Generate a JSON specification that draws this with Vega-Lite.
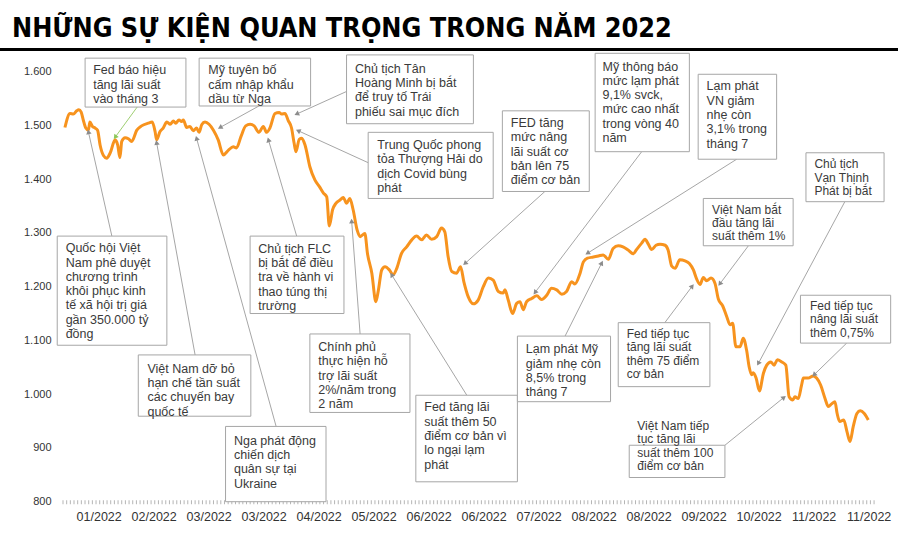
{
  "$schema": "https://vega.github.io/schema/vega-lite/v6.json",
  "width": 814,
  "height": 457,
  "autosize": {"type": "none"},
  "padding": {"left": 62, "top": 44.7, "right": 25, "bottom": 33.3},
  "background": "white",
  "title": {
    "text": "NHỮNG SỰ KIỆN QUAN TRỌNG TRONG NĂM 2022",
    "anchor": "start",
    "frame": "group",
    "dx": -50,
    "dy": 30,
    "font": "Liberation Sans Narrow, DejaVu Sans Condensed, Liberation Sans",
    "fontSize": 26.8,
    "fontWeight": "bold",
    "color": "#000000",
    "baseline": "alphabetic",
    "offset": 11.4
  },
  "config": {
    "view": {"stroke": null},
    "font": "Liberation Sans"
  },
  "datasets": {
    "vn": [
      {"d":0.8,"v":1496},{"d":2.2,"v":1522},{"d":3.1,"v":1521},{"d":4.0,"v":1527},{"d":4.6,"v":1529},{"d":5.2,"v":1525},{"d":5.8,"v":1510},{"d":6.5,"v":1495},{"d":7.2,"v":1491},{"d":7.6,"v":1506},{"d":8.3,"v":1498},{"d":9.0,"v":1495},{"d":9.7,"v":1491},{"d":10.4,"v":1463},{"d":11.3,"v":1444},{"d":12.2,"v":1439},{"d":13.1,"v":1448},{"d":14.5,"v":1473},{"d":15.2,"v":1463},{"d":15.8,"v":1440},{"d":16.3,"v":1470},{"d":17.2,"v":1477},{"d":18.1,"v":1475},{"d":19.0,"v":1470},{"d":20.4,"v":1491},{"d":21.7,"v":1499},{"d":23.5,"v":1504},{"d":24.6,"v":1506},{"d":25.4,"v":1488},{"d":25.8,"v":1473},{"d":26.7,"v":1488},{"d":27.6,"v":1495},{"d":28.6,"v":1506},{"d":29.5,"v":1502},{"d":30.4,"v":1508},{"d":31.0,"v":1504},{"d":31.9,"v":1510},{"d":32.6,"v":1507},{"d":33.1,"v":1510},{"d":34.0,"v":1496},{"d":34.9,"v":1498},{"d":35.8,"v":1490},{"d":36.7,"v":1495},{"d":37.4,"v":1487},{"d":38.1,"v":1501},{"d":39.0,"v":1506},{"d":40.1,"v":1502},{"d":41.3,"v":1491},{"d":42.6,"v":1473},{"d":44.0,"v":1445},{"d":45.4,"v":1454},{"d":46.7,"v":1460},{"d":47.6,"v":1458},{"d":48.8,"v":1479},{"d":50.1,"v":1499},{"d":51.3,"v":1502},{"d":52.4,"v":1499},{"d":53.7,"v":1487},{"d":54.9,"v":1498},{"d":55.8,"v":1487},{"d":56.7,"v":1495},{"d":58.1,"v":1522},{"d":59.2,"v":1524},{"d":59.9,"v":1521},{"d":60.8,"v":1522},{"d":61.7,"v":1509},{"d":62.6,"v":1495},{"d":63.3,"v":1467},{"d":63.8,"v":1451},{"d":64.7,"v":1474},{"d":65.4,"v":1476},{"d":66.3,"v":1463},{"d":67.6,"v":1423},{"d":69.0,"v":1398},{"d":70.2,"v":1386},{"d":71.3,"v":1374},{"d":72.2,"v":1367},{"d":72.9,"v":1313},{"d":73.8,"v":1343},{"d":74.7,"v":1355},{"d":75.8,"v":1361},{"d":76.7,"v":1366},{"d":77.6,"v":1355},{"d":78.5,"v":1364},{"d":79.4,"v":1343},{"d":80.5,"v":1305},{"d":81.3,"v":1293},{"d":82.6,"v":1299},{"d":83.3,"v":1262},{"d":84.5,"v":1225},{"d":85.6,"v":1172},{"d":86.3,"v":1194},{"d":87.2,"v":1231},{"d":88.1,"v":1237},{"d":89.3,"v":1231},{"d":90.3,"v":1222},{"d":91.3,"v":1234},{"d":92.6,"v":1262},{"d":94.0,"v":1274},{"d":95.4,"v":1287},{"d":96.7,"v":1294},{"d":98.1,"v":1287},{"d":99.4,"v":1296},{"d":100.8,"v":1288},{"d":102.2,"v":1293},{"d":103.5,"v":1309},{"d":104.4,"v":1302},{"d":105.3,"v":1256},{"d":106.3,"v":1228},{"d":107.6,"v":1225},{"d":108.7,"v":1237},{"d":109.6,"v":1209},{"d":110.8,"v":1181},{"d":112.2,"v":1168},{"d":113.5,"v":1175},{"d":114.9,"v":1200},{"d":116.3,"v":1216},{"d":117.6,"v":1212},{"d":119.0,"v":1191},{"d":120.3,"v":1188},{"d":120.8,"v":1194},{"d":121.7,"v":1175},{"d":122.9,"v":1150},{"d":124.0,"v":1169},{"d":124.9,"v":1172},{"d":125.8,"v":1157},{"d":126.7,"v":1172},{"d":128.1,"v":1178},{"d":129.5,"v":1183},{"d":130.8,"v":1176},{"d":132.2,"v":1184},{"d":133.5,"v":1197},{"d":134.9,"v":1194},{"d":136.3,"v":1186},{"d":137.6,"v":1191},{"d":139.0,"v":1209},{"d":139.9,"v":1205},{"d":141.3,"v":1225},{"d":142.2,"v":1246},{"d":143.3,"v":1253},{"d":144.9,"v":1255},{"d":146.3,"v":1257},{"d":147.6,"v":1259},{"d":149.0,"v":1251},{"d":150.3,"v":1271},{"d":151.7,"v":1276},{"d":153.0,"v":1274},{"d":154.4,"v":1268},{"d":155.8,"v":1261},{"d":156.7,"v":1269},{"d":158.1,"v":1281},{"d":159.0,"v":1288},{"d":159.9,"v":1279},{"d":160.8,"v":1269},{"d":162.0,"v":1277},{"d":163.1,"v":1279},{"d":164.5,"v":1277},{"d":165.3,"v":1268},{"d":166.3,"v":1238},{"d":167.2,"v":1234},{"d":168.5,"v":1250},{"d":169.9,"v":1248},{"d":171.1,"v":1243},{"d":172.2,"v":1231},{"d":173.1,"v":1214},{"d":174.0,"v":1204},{"d":174.9,"v":1217},{"d":175.8,"v":1211},{"d":177.0,"v":1216},{"d":178.1,"v":1206},{"d":179.0,"v":1177},{"d":180.2,"v":1164},{"d":181.3,"v":1144},{"d":182.2,"v":1129},{"d":182.9,"v":1132},{"d":183.8,"v":1088},{"d":184.9,"v":1088},{"d":185.8,"v":1104},{"d":186.7,"v":1082},{"d":187.4,"v":1051},{"d":188.1,"v":1036},{"d":188.5,"v":1040},{"d":189.3,"v":1030},{"d":190.2,"v":1006},{"d":191.3,"v":1039},{"d":192.2,"v":1054},{"d":193.3,"v":1060},{"d":194.2,"v":1054},{"d":195.1,"v":1064},{"d":196.3,"v":1060},{"d":197.4,"v":1054},{"d":198.3,"v":995},{"d":199.3,"v":989},{"d":199.9,"v":995},{"d":200.8,"v":992},{"d":201.7,"v":1017},{"d":202.2,"v":1030},{"d":203.5,"v":1030},{"d":204.9,"v":1034},{"d":205.8,"v":1030},{"d":206.9,"v":1017},{"d":208.1,"v":992},{"d":209.0,"v":977},{"d":209.9,"v":982},{"d":210.8,"v":986},{"d":211.4,"v":964},{"d":212.1,"v":949},{"d":213.2,"v":952},{"d":214.1,"v":930},{"d":214.9,"v":912},{"d":215.8,"v":940},{"d":216.8,"v":964},{"d":217.7,"v":969},{"d":218.8,"v":964},{"d":219.9,"v":952}
    ],
    "boxes": [
      {"d1":6.3,"d2":33.8,"v1":1534,"v2":1625},
      {"d1":37.4,"d2":67.8,"v1":1536,"v2":1625},
      {"d1":77.6,"d2":112.2,"v1":1503,"v2":1631},
      {"d1":83.5,"d2":117.6,"v1":1364,"v2":1487},
      {"d1":120.1,"d2":143.8,"v1":1377,"v2":1527},
      {"d1":145.4,"d2":171.1,"v1":1451,"v2":1634},
      {"d1":173.5,"d2":194.9,"v1":1437,"v2":1595},
      {"d1":202.9,"d2":224.2,"v1":1358,"v2":1449},
      {"d1":174.9,"d2":199.4,"v1":1276,"v2":1364},
      {"d1":-1.3,"d2":28.6,"v1":1091,"v2":1294},
      {"d1":20.8,"d2":51.5,"v1":959,"v2":1073},
      {"d1":44.6,"d2":72.0,"v1":800,"v2":940},
      {"d1":51.3,"d2":76.9,"v1":1150,"v2":1294},
      {"d1":67.6,"d2":94.9,"v1":966,"v2":1112},
      {"d1":96.5,"d2":124.2,"v1":837,"v2":998},
      {"d1":124.2,"d2":149.6,"v1":986,"v2":1108},
      {"d1":151.7,"d2":176.7,"v1":1014,"v2":1133},
      {"d1":201.4,"d2":226.0,"v1":1095,"v2":1184},
      {"d1":154.7,"d2":180.8,"v1":845,"v2":905}
    ],
    "links": [
      {"d1":53.7,"v1":1536,"d2":43.1,"v2":1496},
      {"d1":77.6,"v1":1563,"d2":64.0,"v2":1521},
      {"d1":84.0,"v1":1429,"d2":64.4,"v2":1490},
      {"d1":131.7,"v1":1377,"d2":109.9,"v2":1243},
      {"d1":158.1,"v1":1451,"d2":129.0,"v2":1189},
      {"d1":184.0,"v1":1437,"d2":143.3,"v2":1262},
      {"d1":213.5,"v1":1358,"d2":189.9,"v2":1057},
      {"d1":187.2,"v1":1276,"d2":179.4,"v2":1205},
      {"d1":13.6,"v1":1294,"d2":7.2,"v2":1488},
      {"d1":36.3,"v1":1073,"d2":25.8,"v2":1468},
      {"d1":58.4,"v1":940,"d2":36.7,"v2":1476},
      {"d1":64.0,"v1":1294,"d2":56.3,"v2":1473},
      {"d1":81.3,"v1":1112,"d2":79.0,"v2":1322},
      {"d1":110.4,"v1":998,"d2":89.9,"v2":1222},
      {"d1":137.2,"v1":1108,"d2":147.2,"v2":1244},
      {"d1":164.4,"v1":1133,"d2":171.9,"v2":1201},
      {"d1":214.0,"v1":1095,"d2":205.1,"v2":1036},
      {"d1":180.8,"v1":905,"d2":196.9,"v2":994}
    ],
    "greenLink": [
      {"d1":20.5,"v1":1534,"d2":14.5,"v2":1478}
    ],
    "titleRule": [
      {"d1":-17,"d2":228,"v":1641}
    ],
    "notes": [
      {"d":8.5,"v":1595,"t":"Fed báo hiệu\ntăng lãi suất\nvào tháng 3"},
      {"d":39.9,"v":1595,"t":"Mỹ tuyên bố\ncấm nhập khẩu\ndầu từ Nga"},
      {"d":79.9,"v":1598,"t":"Chủ tịch Tân\nHoàng Minh bị bắt\nđể truy tố Trái\nphiếu sai mục đích"},
      {"d":86.0,"v":1456,"t":"Trung Quốc phong\ntỏa Thượng Hải do\ndịch Covid bùng\nphát"},
      {"d":122.4,"v":1497,"t":"FED tăng\nmức nâng\nlãi suất cơ\nbản lên 75\nđiểm cơ bản"},
      {"d":147.4,"v":1602,"t":"Mỹ thông báo\nmức lạm phát\n9,1% svck,\nmức cao nhất\ntrong vòng 40\nnăm"},
      {"d":175.8,"v":1565,"t":"Lạm phát\nVN giảm\nnhẹ còn\n3,1% trong\ntháng 7"},
      {"d":1.0,"v":1264,"t":"Quốc hội Việt\nNam phê duyệt\nchương trình\nkhôi phục kinh\ntế xã hội trị giá\ngần 350.000 tỷ\nđồng"},
      {"d":23.3,"v":1040,"t":"Việt Nam dỡ bỏ\nhạn chế tần suất\ncác chuyến bay\nquốc tế"},
      {"d":46.9,"v":906,"t":"Nga phát động\nchiến dịch\nquân sự tại\nUkraine"},
      {"d":53.5,"v":1263,"t":"Chủ tịch FLC\nbị bắt để điều\ntra về hành vi\nthao túng thị\ntrường"},
      {"d":69.9,"v":1080,"t":"Chính phủ\nthực hiện hỗ\ntrợ lãi suất\n2%/năm trong\n2 năm"},
      {"d":98.8,"v":968,"t":"Fed tăng lãi\nsuất thêm 50\nđiểm cơ bản vì\nlo ngại lạm\nphát"},
      {"d":126.5,"v":1076,"t":"Lạm phát Mỹ\ngiảm nhẹ còn\n8,5% trong\ntháng 7"}
    ],
    "notesSmall": [
      {"d":205.2,"v":1420,"t":"Chủ tịch\nVạn Thịnh\nPhát bị bắt"},
      {"d":177.3,"v":1336,"t":"Việt Nam bắt\nđầu tăng lãi\nsuất thêm 1%"},
      {"d":154.0,"v":1104,"t":"Fed tiếp tục\ntăng lãi suất\nthêm 75 điểm\ncơ bản"},
      {"d":204.0,"v":1156,"t":"Fed tiếp tục\nnâng lãi suất\nthêm 0,75%"},
      {"d":156.9,"v":933,"t":"Việt Nam tiếp\ntục tăng lãi\nsuất thêm 100\nđiểm cơ bản"}
    ]
  },
  "layer": [
    {
      "data": {"name": "vn"},
      "mark": {"type": "line", "color": "#f7931e", "strokeWidth": 3, "interpolate": "monotone"},
      "encoding": {
        "x": {
          "field": "d", "type": "quantitative",
          "scale": {"domain": [0, 222], "nice": false, "zero": false},
          "axis": {
            "title": null,
            "values": [10, 25, 40, 55, 70, 85, 100, 115, 130, 145, 160, 175, 190, 205, 220],
            "labelExpr": "['01/2022','02/2022','03/2022','03/2022','04/2022','05/2022','06/2022','06/2022','07/2022','08/2022','08/2022','09/2022','10/2022','11/2022','11/2022'][round((datum.value-10)/15)]",
            "ticks": false,
            "grid": false,
            "domain": true,
            "domainColor": "#b5b5b5",
            "domainWidth": 4,
            "domainDash": [1, 2.67],
            "labelPadding": 9,
            "labelFontSize": 12.5,
            "labelColor": "#333333",
            "labelFont": "Liberation Sans",
            "labelBaseline": "top"
          }
        },
        "y": {
          "field": "v", "type": "quantitative",
          "scale": {"domain": [800, 1650], "nice": false, "zero": false},
          "axis": {
            "title": null,
            "values": [800, 900, 1000, 1100, 1200, 1300, 1400, 1500, 1600],
            "labelExpr": "replace(format(datum.value, ','), ',', '.')",
            "ticks": false,
            "grid": false,
            "domain": false,
            "labelPadding": 11,
            "labelFontSize": 11,
            "labelColor": "#333333",
            "labelFont": "Liberation Sans"
          }
        }
      }
    },
    {
      "data": {"name": "links"},
      "mark": {"type": "rule", "color": "#a6a6a6", "strokeWidth": 1},
      "encoding": {
        "x": {"field": "d1", "type": "quantitative"},
        "y": {"field": "v1", "type": "quantitative"},
        "x2": {"field": "d2"},
        "y2": {"field": "v2"}
      }
    },
    {
      "data": {"name": "links"},
      "mark": {"type": "point", "shape": "triangle-up", "filled": true, "size": 30, "color": "#8c8c8c", "opacity": 1,
        "angle": {"expr": "atan2((datum.d2-datum.d1)*3.667, (datum.v2-datum.v1)*0.5376)*180/PI"}},
      "encoding": {
        "x": {"field": "d2", "type": "quantitative"},
        "y": {"field": "v2", "type": "quantitative"}
      }
    },
    {
      "data": {"name": "greenLink"},
      "mark": {"type": "rule", "color": "#9fcf72", "strokeWidth": 1},
      "encoding": {
        "x": {"field": "d1", "type": "quantitative"},
        "y": {"field": "v1", "type": "quantitative"},
        "x2": {"field": "d2"},
        "y2": {"field": "v2"}
      }
    },
    {
      "data": {"name": "greenLink"},
      "mark": {"type": "point", "shape": "triangle-up", "filled": true, "size": 30, "color": "#8cc85a", "opacity": 1,
        "angle": {"expr": "atan2((datum.d2-datum.d1)*3.667, (datum.v2-datum.v1)*0.5376)*180/PI"}},
      "encoding": {
        "x": {"field": "d2", "type": "quantitative"},
        "y": {"field": "v2", "type": "quantitative"}
      }
    },
    {
      "data": {"name": "boxes"},
      "mark": {"type": "rect", "fill": "#ffffff", "stroke": "#a6a6a6", "strokeWidth": 1},
      "encoding": {
        "x": {"field": "d1", "type": "quantitative"},
        "x2": {"field": "d2"},
        "y": {"field": "v1", "type": "quantitative"},
        "y2": {"field": "v2"}
      }
    },
    {
      "data": {"name": "notes"},
      "mark": {"type": "text", "align": "left", "baseline": "alphabetic", "lineBreak": "\n", "lineHeight": 14.3, "fontSize": 12.5, "font": "Liberation Sans", "color": "#3a3a3a"},
      "encoding": {
        "x": {"field": "d", "type": "quantitative"},
        "y": {"field": "v", "type": "quantitative"},
        "text": {"field": "t"}
      }
    },
    {
      "data": {"name": "notesSmall"},
      "mark": {"type": "text", "align": "left", "baseline": "alphabetic", "lineBreak": "\n", "lineHeight": 13.2, "fontSize": 12, "font": "Liberation Sans", "color": "#3a3a3a"},
      "encoding": {
        "x": {"field": "d", "type": "quantitative"},
        "y": {"field": "v", "type": "quantitative"},
        "text": {"field": "t"}
      }
    },
    {
      "data": {"name": "titleRule"},
      "mark": {"type": "rule", "color": "#000000", "strokeWidth": 3},
      "encoding": {
        "x": {"field": "d1", "type": "quantitative"},
        "x2": {"field": "d2"},
        "y": {"field": "v", "type": "quantitative"}
      }
    }
  ]
}
